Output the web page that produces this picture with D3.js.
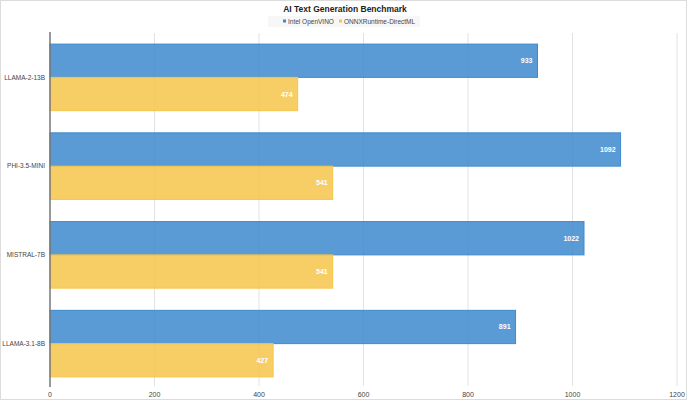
<!DOCTYPE html>
<html>
<head>
<meta charset="utf-8">
<script src="https://cdn.jsdelivr.net/npm/d3@7"></script>
<style>
  body { margin: 0; background: #fff; }
  svg { display: block; font-family: "Liberation Sans", Arial, sans-serif; }
</style>
</head>
<body>
<div id="chart"></div>
<script>
// chart data
const models = ['LLAMA-2-13B', 'PHI-3.5-MINI', 'MISTRAL-7B', 'LLAMA-3.1-8B'];
const seriesNames = ['Intel OpenVINO', 'ONNXRuntime-DirectML'];
const openvino = [933, 1092, 1022, 891];
const directml = [474, 541, 541, 427];
const xTicks = [0, 200, 400, 600, 800, 1000, 1200];

const colors = ['#3e89ce', '#f6c54b'];
const width = 690, height = 400;
const margin = { top: 33, right: 13, bottom: 12, left: 50 };

function drawChart() {
    const svg = d3.select('#chart')
        .append('svg')
        .attr('width', width)
        .attr('height', height);

    // background + faint frame
    svg.append('rect')
        .attr('x', 0.5).attr('y', 0.5)
        .attr('width', width - 4).attr('height', height - 1)
        .attr('fill', '#fff')
        .attr('stroke', '#dcdcdc');

    const x = d3.scaleLinear()
        .domain([0, 1200])
        .range([margin.left, width - margin.right]);

    const y = d3.scaleBand()
        .domain(models)
        .range([margin.top, height - margin.bottom])
        .paddingInner(0.25)
        .paddingOuter(0.125);

    const ySub = d3.scaleBand()
        .domain(seriesNames)
        .range([0, y.bandwidth()]);

    // grid lines
    svg.append('g')
        .selectAll('line')
        .data(xTicks.slice(1))
        .enter()
        .append('line')
        .attr('x1', d => x(d)).attr('x2', d => x(d))
        .attr('y1', margin.top).attr('y2', height - margin.bottom - 2)
        .attr('stroke', '#e2e2e2')
        .attr('stroke-width', 1);

    // tick labels
    svg.append('g')
        .selectAll('text')
        .data(xTicks)
        .enter()
        .append('text')
        .attr('x', d => x(d))
        .attr('y', height - 3)
        .attr('text-anchor', 'middle')
        .attr('font-size', 7)
        .attr('fill', '#444')
        .text(d => d);

    // bars
    const rows = models.map((m, i) => ({ model: m, values: [openvino[i], directml[i]] }));
    const groups = svg.append('g')
        .selectAll('g')
        .data(rows)
        .enter()
        .append('g')
        .attr('transform', d => `translate(0,${y(d.model)})`);

    const bars = groups.selectAll('g')
        .data(d => d.values.map((v, k) => ({ name: seriesNames[k], value: v, k })))
        .enter()
        .append('g');

    bars.append('rect')
        .attr('x', x(0))
        .attr('y', d => ySub(d.name))
        .attr('width', d => x(d.value) - x(0))
        .attr('height', ySub.bandwidth())
        .attr('fill', d => colors[d.k])
        .attr('fill-opacity', 0.85)
        .attr('stroke', d => colors[d.k])
        .attr('stroke-width', 1);

    bars.append('text')
        .attr('x', d => x(d.value) - 5)
        .attr('y', d => ySub(d.name) + ySub.bandwidth() / 2 + 2.5)
        .attr('text-anchor', 'end')
        .attr('font-size', 7)
        .attr('font-weight', 'bold')
        .attr('fill', '#fff')
        .text(d => d.value);

    // category labels
    svg.append('g')
        .selectAll('text')
        .data(models)
        .enter()
        .append('text')
        .attr('x', margin.left - 5)
        .attr('y', d => y(d) + y.bandwidth() / 2 + 2.3)
        .attr('text-anchor', 'end')
        .attr('font-size', 6.5)
        .attr('fill', '#444')
        .text(d => d);

    // y axis line
    svg.append('line')
        .attr('x1', x(0)).attr('x2', x(0))
        .attr('y1', margin.top - 1).attr('y2', height - margin.bottom - 1)
        .attr('stroke', '#777')
        .attr('stroke-width', 1.5);

    // title
    svg.append('text')
        .attr('x', 345)
        .attr('y', 11.5)
        .attr('text-anchor', 'middle')
        .attr('font-size', 8.5)
        .attr('font-weight', 'bold')
        .attr('fill', '#222')
        .text('AI Text Generation Benchmark');

    // legend
    const legend = svg.append('g');
    legend.append('rect')
        .attr('x', 268).attr('y', 16)
        .attr('width', 152).attr('height', 11)
        .attr('fill', '#f7f7f7');
    const legendX = [283, 339];
    seriesNames.forEach((name, k) => {
        legend.append('rect')
            .attr('x', legendX[k]).attr('y', 19.5)
            .attr('width', 3).attr('height', 3)
            .attr('fill', colors[k]);
        legend.append('text')
            .attr('x', legendX[k] + 5)
            .attr('y', 23.5)
            .attr('font-size', 6.5)
            .attr('fill', '#444')
            .text(name);
    });
}

document.addEventListener('DOMContentLoaded', drawChart);
</script>
</body>
</html>
